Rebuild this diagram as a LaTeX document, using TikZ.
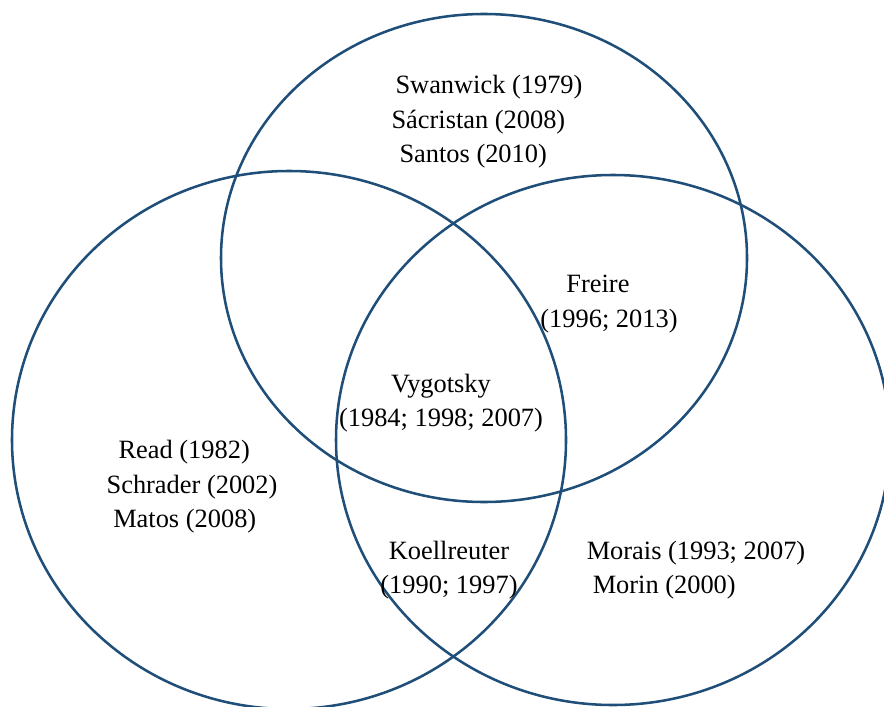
\documentclass[tikz,border=0pt]{standalone}
\usepackage{fontspec}
\setmainfont{Liberation Serif}
\usetikzlibrary{positioning}
\definecolor{setblue}{RGB}{31,78,121}

\begin{document}
\begin{tikzpicture}[x=0.75pt,y=-0.75pt,node font=\fontsize{19.8}{25.9}\selectfont]
	\tikzstyle{set}=[draw=setblue,line width=1.9pt]
	\useasboundingbox (0,0) rectangle (884,706);
	
	\draw[set] (484,258) ellipse [x radius=263, y radius=244];
	\draw[set] (289,440) ellipse [x radius=277, y radius=269];
	\draw[set] (613,440) ellipse [x radius=277, y radius=265];
	
	\node[align=left]   (SW)  at (487,122) {\hspace*{3pt}Swanwick (1979)\\Sácristan (2008)\\\hspace*{6pt}Santos (2010)};
	\node[align=left]   (FR)  at (609,304) {\hspace*{19.5pt}Freire\\(1996; 2013)};
	\node[align=center] (VY)  at (441,403) {Vygotsky\\(1984; 1998; 2007)};
	\node[align=left]   (RE)  at (192,487) {\hspace*{9pt}Read (1982)\\Schrader (2002)\\\hspace*{5pt}Matos (2008)};
	\node[align=center] (KO)  at (449,570) {Koellreuter\\(1990; 1997)};
	\node[align=left]   (MO)  at (696,570) {Morais (1993; 2007)\\\hspace*{4.5pt}Morin (2000)};
\end{tikzpicture}
\end{document}
